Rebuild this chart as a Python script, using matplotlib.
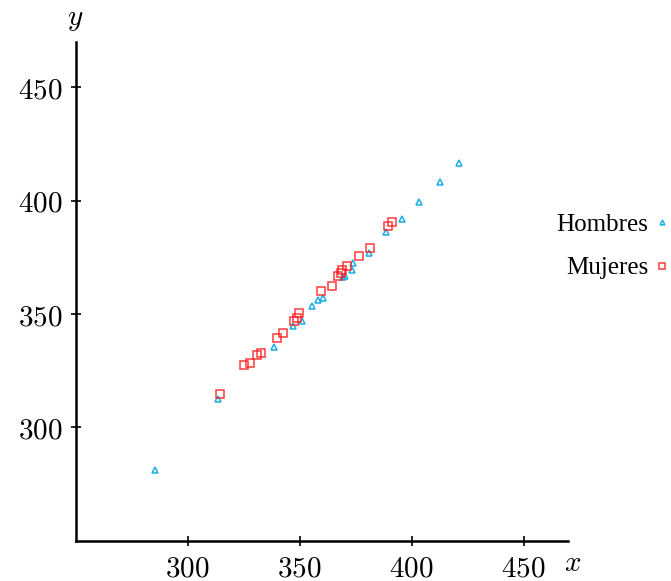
import matplotlib
matplotlib.use('Agg')
import matplotlib.pyplot as plt
from matplotlib.ticker import FuncFormatter

plt.rcParams['mathtext.fontset'] = 'cm'

# Hombres (triangulos)
hombres_x = [285.3, 313.3, 338.6, 347.2, 351.2, 355.4, 358.1, 360.3, 369.2, 370.3,
             373.2, 374.0, 381.0, 388.6, 395.8, 403.1, 412.6, 421.1]
hombres_y = [281.3, 312.6, 335.5, 344.8, 347.1, 353.6, 356.3, 357.1, 366.2, 366.8,
             369.5, 372.4, 377.0, 386.2, 392.0, 399.2, 408.3, 416.5]

# Mujeres (cuadrados)
mujeres_x = [314.4, 325.3, 327.8, 330.8, 332.6, 340.0, 342.4, 347.6, 348.7, 349.7,
             359.4, 364.4, 366.9, 368.3, 368.8, 371.3, 376.3, 381.2, 389.4, 391.2]
mujeres_y = [314.8, 327.6, 328.4, 332.0, 332.8, 339.4, 341.8, 347.0, 348.2, 350.4,
             360.2, 362.3, 366.8, 368.0, 369.4, 371.3, 375.8, 379.0, 388.9, 390.8]

ticks = [300, 350, 400, 450]

fig = plt.figure(figsize=(6.71, 5.81), dpi=100)
ax = fig.add_axes([0.113, 0.069, 0.734, 0.859])

ax.plot(hombres_x, hombres_y, linestyle='none', marker='^', markersize=4.5,
        markerfacecolor='none', markeredgecolor='#1aaee6', markeredgewidth=1.1,
        label='Hombres')
ax.plot(mujeres_x, mujeres_y, linestyle='none', marker='s', markersize=6.0,
        markerfacecolor='none', markeredgecolor='#ff1a1a', markeredgewidth=1.1,
        alpha=0.85, label='Mujeres')

ax.set_xlim(250, 470)
ax.set_ylim(250, 470)
ax.set_xticks(ticks)
ax.set_yticks(ticks)
fmt = FuncFormatter(lambda v, pos: r'$%d$' % v)
ax.xaxis.set_major_formatter(fmt)
ax.yaxis.set_major_formatter(fmt)
ax.tick_params(direction='inout', length=7, width=1.2, labelsize=21, pad=6)

for side in ['top', 'right']:
    ax.spines[side].set_visible(False)
for side in ['left', 'bottom']:
    ax.spines[side].set_linewidth(1.8)

fig.text(0.112, 0.968, r'$y$', fontsize=21, ha='center', va='center')
fig.text(0.853, 0.031, r'$x$', fontsize=21, ha='center', va='center')

leg = ax.legend(loc='center right', bbox_to_anchor=(1.0, 0.576),
                bbox_transform=fig.transFigure, frameon=False, markerfirst=False,
                markerscale=0.75, handlelength=0.5, handletextpad=0.3,
                borderpad=0.1, borderaxespad=0, labelspacing=0.85,
                prop={'family': 'Liberation Serif', 'size': 18})

fig.savefig('out.png', dpi=100)
